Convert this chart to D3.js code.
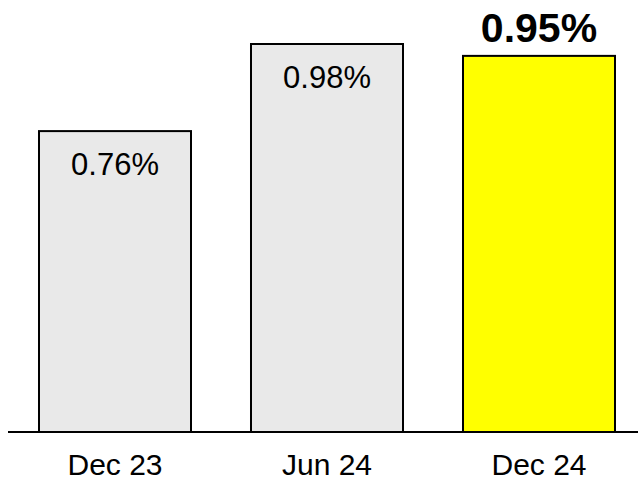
<!DOCTYPE html>
<html><head><meta charset="utf-8">
<script src="https://cdn.jsdelivr.net/npm/d3@7"></script>
<style>body{margin:0;background:#fff}svg{display:block}</style>
</head><body>
<svg id="c" width="638" height="482"></svg>
<script>
const categories = ["Dec 23", "Jun 24", "Dec 24"];
const values = [0.76, 0.98, 0.95];
const labels = ["0.76%", "0.98%", "0.95%"];
const highlight = [false, false, true];

const svg = d3.select("#c");
const font = "Liberation Sans, Arial, sans-serif";
const x = d3.scaleBand().domain(categories).range([9, 645]).paddingInner(0.283).paddingOuter(0.1415);
const y = d3.scaleLinear().domain([0, 0.98]).range([432, 44]);

const data = categories.map((c, i) => ({c, v: values[i], l: labels[i], h: highlight[i]}));

svg.selectAll("rect.bar").data(data).enter().append("rect")
  .attr("x", d => x(d.c)).attr("y", d => y(d.v))
  .attr("width", x.bandwidth()).attr("height", d => y(0) - y(d.v))
  .attr("fill", d => d.h ? "#ffff00" : "#e9e9e9")
  .attr("stroke", "#000").attr("stroke-width", 2);

svg.append("line").attr("x1", 8).attr("x2", 638).attr("y1", y(0)).attr("y2", y(0))
  .attr("stroke", "#000").attr("stroke-width", 2);

svg.selectAll("text.val").data(data).enter().append("text")
  .attr("x", d => x(d.c) + x.bandwidth()/2)
  .attr("y", d => d.h ? y(d.v) - 14 : y(d.v) + 44)
  .attr("text-anchor", "middle")
  .attr("font-family", font)
  .attr("font-size", d => d.h ? 41 : 31)
  .attr("font-weight", d => d.h ? "bold" : "normal")
  .attr("fill", "#000")
  .text(d => d.l);

const ax = svg.append("g").attr("transform", "translate(0,432)")
  .call(d3.axisBottom(x).tickSize(0).tickPadding(35));
ax.select(".domain").remove();
ax.selectAll("text").attr("font-family", font).attr("font-size", 30).attr("fill", "#000")
  .attr("dy", null).attr("y", 43);
</script>
</body></html>
